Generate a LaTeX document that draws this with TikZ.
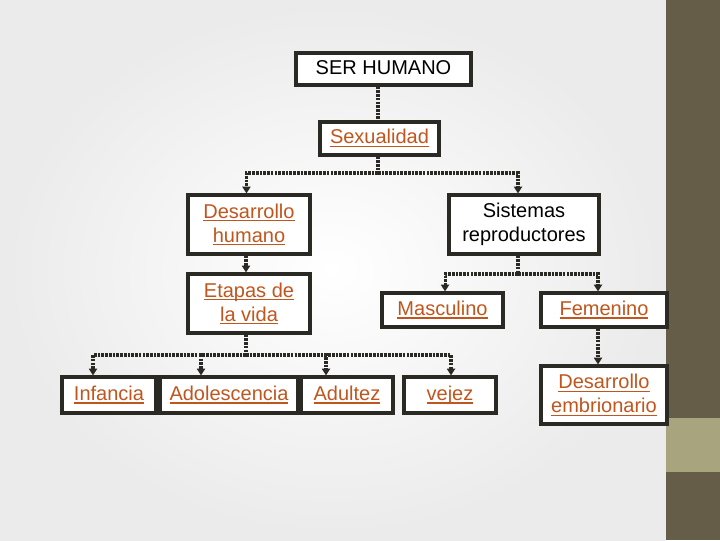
\documentclass[tikz,border=0pt]{standalone}
\usepackage{fontspec}
\setmainfont{Liberation Sans}
\usetikzlibrary{arrows.meta}
\definecolor{txtor}{HTML}{C0561E}
\definecolor{boxln}{HTML}{2B2924}
\definecolor{bandD}{HTML}{655D47}
\definecolor{bandL}{HTML}{A8A47E}
\newcommand{\ulk}[1]{\setbox0\hbox{#1}\rlap{\rule[-2.6pt]{\wd0}{1pt}}\box0}
\tikzset{
  box/.style={draw=boxln, line width=2.4pt, fill=white, inner sep=0pt, align=center,
              font=\fontsize{15}{18}\selectfont},
  lnk/.style={box, text=txtor},
  one/.style={text height=11pt, text depth=3pt},
  conn/.style={draw=boxln, line width=2.3pt, dash pattern=on 2pt off 0.8pt},
  arr/.style={conn, -{Triangle[width=6pt,length=5pt]}}
}
\begin{document}
\begin{tikzpicture}[x=0.75pt,y=-0.75pt]
\useasboundingbox (0,0) rectangle (720,540);
\shade[inner color=white, outer color=gray!16] (0,0) rectangle (666,540);
\fill[bandD] (666,0) rectangle (720,540);
\fill[bandL] (666,418) rectangle (720,472);

\node[box, one, minimum width=131.25pt, minimum height=24pt] (ser) at (383.5,69) {SER HUMANO};
\node[lnk, one, minimum width=89.25pt, minimum height=24.75pt] (sex) at (379.5,138.5) {\ulk{Sexualidad}};
\node[lnk, minimum width=91.5pt, minimum height=44.25pt] (dh) at (249,224.5) {\ulk{Desarrollo}\\\ulk{humano}};
\node[box, minimum width=112.5pt, minimum height=44.25pt] (sr) at (524,224.5) {Sistemas\\reproductores};
\node[lnk, minimum width=91.5pt, minimum height=44.25pt] (et) at (249,303.5) {\ulk{Etapas de}\\\ulk{la vida}};
\node[lnk, one, minimum width=90.75pt, minimum height=25.5pt] (masc) at (442.5,310) {\ulk{Masculino}};
\node[lnk, one, minimum width=94.5pt, minimum height=25.5pt] (fem) at (604,310) {\ulk{Femenino}};
\node[lnk, one, minimum width=70.5pt, minimum height=27pt] (inf) at (109,395) {\ulk{Infancia}};
\node[lnk, one, minimum width=103.5pt, minimum height=27pt] (ado) at (229,395) {\ulk{Adolescencia}};
\node[lnk, one, minimum width=69pt, minimum height=27pt] (adu) at (347,395) {\ulk{Adultez}};
\node[lnk, one, minimum width=69pt, minimum height=27pt] (vej) at (450,395) {\ulk{vejez}};
\node[lnk, minimum width=94.5pt, minimum height=43.5pt] (demb) at (604,395) {\ulk{Desarrollo}\\\ulk{embrionario}};

\coordinate (j1) at (378,173);
\coordinate (j2) at (518,274);
\coordinate (j3) at (246,355);

\draw[conn] (ser.south -| j1) -- (sex.north -| j1);
\draw[conn] (sex.south -| j1) -- (j1);
\draw[arr] (j1) -| ([xshift=-1.9pt]dh.north);
\draw[arr] (j1) -| ([xshift=-4.5pt]sr.north);
\draw[arr] ([xshift=-2.25pt]dh.south) -- ([xshift=-2.25pt]et.north);
\draw[conn] (sr.south -| j2) -- (j2);
\draw[arr] (j2) -| ([xshift=1.9pt]masc.north);
\draw[arr] (j2) -| ([xshift=-4.5pt]fem.north);
\draw[arr] ([xshift=-4.5pt]fem.south) -- ([xshift=-4.5pt]demb.north);
\draw[conn] (et.south -| j3) -- (j3);
\draw[arr] (j3) -| ([xshift=-12pt]inf.north);
\draw[arr] (j3) -| ([xshift=-21pt]ado.north);
\draw[arr] (j3) -| ([xshift=-15.75pt]adu.north);
\draw[arr] (j3) -| ([xshift=0.75pt]vej.north);
\end{tikzpicture}
\end{document}
